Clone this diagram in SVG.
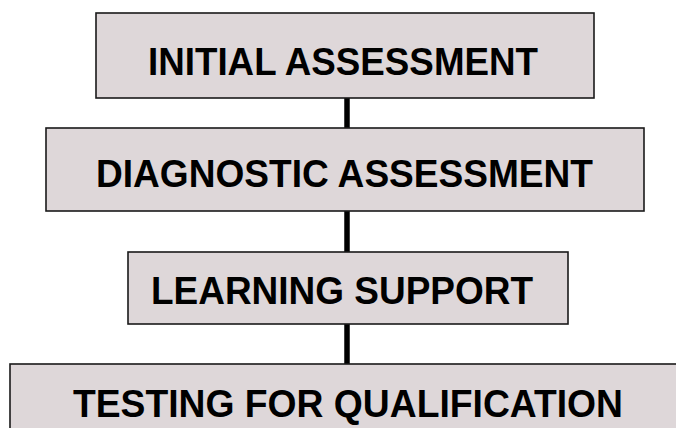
<svg xmlns="http://www.w3.org/2000/svg" width="676" height="428" viewBox="0 0 676 428">
<style>
.box{fill:#DED7D9;stroke:#1a1a1a;stroke-width:1.6}
.lbl{font-family:"Liberation Sans",Arial,sans-serif;font-weight:bold;font-size:38px;fill:#000;text-anchor:middle}
.conn{stroke:#000;stroke-width:5.5;fill:none}
</style>
<rect width="676" height="428" fill="#fff"/>
<g id="connectors">
<line class="conn" x1="347" y1="98" x2="347" y2="128"/>
<line class="conn" x1="347" y1="211" x2="347" y2="252"/>
<line class="conn" x1="347" y1="324" x2="347" y2="364"/>
</g>
<g id="initial-assessment">
<rect class="box" x="96" y="13" width="498" height="85"/>
<text class="lbl" x="343" y="74.5" textLength="390" lengthAdjust="spacingAndGlyphs">INITIAL ASSESSMENT</text>
</g>
<g id="diagnostic-assessment">
<rect class="box" x="46" y="128" width="598" height="83"/>
<text class="lbl" x="344.5" y="187" textLength="497" lengthAdjust="spacingAndGlyphs">DIAGNOSTIC ASSESSMENT</text>
</g>
<g id="learning-support">
<rect class="box" x="128" y="252" width="440" height="72"/>
<text class="lbl" x="342" y="303.5" textLength="382" lengthAdjust="spacingAndGlyphs">LEARNING SUPPORT</text>
</g>
<g id="testing-for-qualification">
<rect class="box" x="10" y="364" width="680" height="80"/>
<text class="lbl" x="348" y="416.5" textLength="550" lengthAdjust="spacingAndGlyphs">TESTING FOR QUALIFICATION</text>
</g>
</svg>
